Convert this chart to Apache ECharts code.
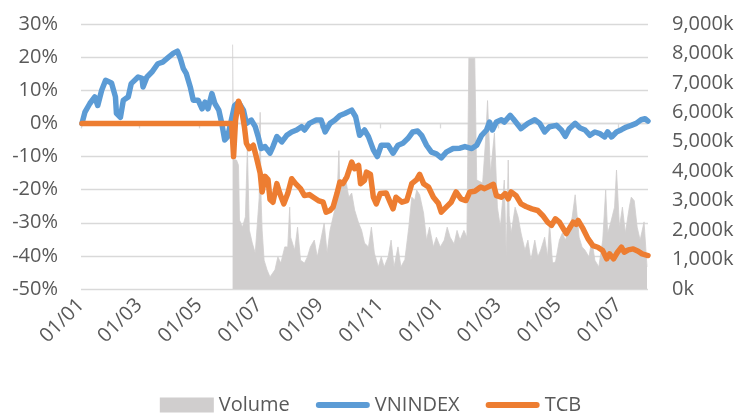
<!DOCTYPE html>
<html>
<head>
<meta charset="utf-8">
<script src="https://cdn.jsdelivr.net/npm/echarts@6/dist/echarts.min.js"></script>
<style>
  html, body { margin: 0; padding: 0; background: #ffffff; }
  #chart { width: 741px; height: 414px; }
</style>
</head>
<body>
<div id="chart"></div>
<script>
// VNINDEX vs TCB (% change) with TCB daily volume (thousand shares), Jan 2018 – Jul 2019.

// Bottom labels sit on the first day of every other month.
const tickDates = ['2018-01-01', '2018-03-01', '2018-05-01', '2018-07-01', '2018-09-01',
                   '2018-11-01', '2019-01-01', '2019-03-01', '2019-05-01', '2019-07-01'];

// VNINDEX, % change since the first session
const vnDates = [
  '2018-01-02', '2018-01-05', '2018-01-10', '2018-01-15', '2018-01-18', '2018-01-22', '2018-01-26',
  '2018-02-01', '2018-02-05', '2018-02-06', '2018-02-10', '2018-02-13', '2018-02-18', '2018-02-21', '2018-02-28',
  '2018-03-04', '2018-03-05', '2018-03-09', '2018-03-14', '2018-03-20', '2018-03-25', '2018-03-27', '2018-03-31',
  '2018-04-05', '2018-04-09', '2018-04-12', '2018-04-15', '2018-04-18', '2018-04-22', '2018-04-25', '2018-04-30',
  '2018-05-04', '2018-05-07', '2018-05-10', '2018-05-14', '2018-05-17', '2018-05-21', '2018-05-24', '2018-05-27', '2018-05-30',
  '2018-06-02', '2018-06-06', '2018-06-10', '2018-06-15', '2018-06-18', '2018-06-23', '2018-06-27', '2018-06-30',
  '2018-07-03', '2018-07-07', '2018-07-12', '2018-07-15', '2018-07-19', '2018-07-24', '2018-07-29',
  '2018-08-03', '2018-08-08', '2018-08-13', '2018-08-16', '2018-08-21', '2018-08-28',
  '2018-09-02', '2018-09-06', '2018-09-11', '2018-09-16', '2018-09-21', '2018-09-26',
  '2018-10-03', '2018-10-07', '2018-10-11', '2018-10-16', '2018-10-20', '2018-10-25', '2018-10-29',
  '2018-11-02', '2018-11-04', '2018-11-09', '2018-11-14', '2018-11-19', '2018-11-24', '2018-11-29',
  '2018-12-04', '2018-12-09', '2018-12-13', '2018-12-18', '2018-12-23', '2018-12-28',
  '2019-01-02', '2019-01-07', '2019-01-14', '2019-01-21', '2019-01-26',
  '2019-02-02', '2019-02-07', '2019-02-12', '2019-02-17', '2019-02-20', '2019-02-23', '2019-02-27',
  '2019-03-04', '2019-03-07', '2019-03-13', '2019-03-16', '2019-03-24', '2019-03-31',
  '2019-04-07', '2019-04-12', '2019-04-17', '2019-04-22', '2019-04-29',
  '2019-05-04', '2019-05-08', '2019-05-12', '2019-05-18', '2019-05-23', '2019-05-28',
  '2019-06-02', '2019-06-07', '2019-06-12', '2019-06-17', '2019-06-20', '2019-06-24', '2019-06-29',
  '2019-07-04', '2019-07-09', '2019-07-14', '2019-07-19', '2019-07-24', '2019-07-28', '2019-07-31'
];
const vnPct = [
  0, 3.4, 6, 8, 5.4, 10, 13,
  12.2, 8, 3, 1.8, 7, 8, 12, 14,
  13.6, 11, 14, 15.5, 18, 18.5, 18, 20,
  21.2, 21.8, 19.5, 16.5, 15, 11, 7, 7,
  4.4, 6.4, 4.4, 9, 6, 4, 0, -5, -4,
  0, 5.4, 6.4, 4, 0, 1, -1, -4,
  -7.6, -7, -9, -7, -4, -5.6, -3.6,
  -2.6, -2, -1, -2, 0, 1,
  1, -2.6, 0, 1, 2.4, 3,
  4, 2, -3.6, -2, -4, -8, -10,
  -6.6, -6, -6.6, -9, -6.6, -6, -4.6,
  -2.6, -2.3, -3.6, -6.6, -8.7, -9.2,
  -10.4, -8.7, -7.6, -7.5, -7,
  -7.6, -6.6, -3.6, -2, 0.4, -2, 0.4,
  1.1, 0.4, 2.4, 1.4, -1.6, 0,
  1.1, 0, -2.6, -1, -0.6,
  -2, -3.9, -1.6, 0, -1.4, -2,
  -3.6, -2.6, -3.1, -4.1, -2.6, -4.1, -2.6,
  -1.9, -1.1, -0.6, 0, 1.1, 1.4, 0.7
];

// TCB, % change vs. listing price (0 before listing on 4 Jun 2018)
const tcbDates = [
  '2018-01-02', '2018-06-03', '2018-06-05', '2018-06-07', '2018-06-10', '2018-06-13', '2018-06-16', '2018-06-18',
  '2018-06-21', '2018-06-25', '2018-06-28',
  '2018-07-02', '2018-07-04', '2018-07-07', '2018-07-10', '2018-07-12', '2018-07-15', '2018-07-19', '2018-07-22',
  '2018-07-26', '2018-07-30',
  '2018-08-03', '2018-08-07', '2018-08-12', '2018-08-16', '2018-08-21', '2018-08-25', '2018-08-30',
  '2018-09-04', '2018-09-07', '2018-09-11', '2018-09-14', '2018-09-18', '2018-09-21', '2018-09-24', '2018-09-28',
  '2018-10-03', '2018-10-06', '2018-10-10', '2018-10-12', '2018-10-16', '2018-10-18', '2018-10-22', '2018-10-25', '2018-10-28',
  '2018-11-01', '2018-11-07', '2018-11-11', '2018-11-14', '2018-11-17', '2018-11-23', '2018-11-28',
  '2018-12-03', '2018-12-08', '2018-12-11', '2018-12-15', '2018-12-20', '2018-12-25', '2018-12-30',
  '2019-01-02', '2019-01-07', '2019-01-12', '2019-01-17', '2019-01-22', '2019-01-27', '2019-01-31',
  '2019-02-05', '2019-02-11', '2019-02-15', '2019-02-20', '2019-02-24', '2019-02-27',
  '2019-03-04', '2019-03-08', '2019-03-11', '2019-03-14', '2019-03-19', '2019-03-24', '2019-03-29',
  '2019-04-04', '2019-04-10', '2019-04-15', '2019-04-20', '2019-04-24', '2019-04-28',
  '2019-05-02', '2019-05-07', '2019-05-09', '2019-05-12', '2019-05-16', '2019-05-19', '2019-05-21', '2019-05-26', '2019-05-31',
  '2019-06-05', '2019-06-10', '2019-06-15', '2019-06-19', '2019-06-22', '2019-06-26', '2019-06-30',
  '2019-07-04', '2019-07-07', '2019-07-11', '2019-07-16', '2019-07-21', '2019-07-25', '2019-07-31'
];
const tcbPct = [
  0, 0, -10, 1, 6.7, 4.4, -1, -6,
  -7.6, -6.6, -10,
  -15, -20.7, -16, -17, -23, -23.8, -18.2, -21.2,
  -24.3, -21.2,
  -16.7, -18.2, -19.7, -21.8, -21.5, -22.3, -23.3,
  -23.8, -26.8, -26.3, -25.3, -21.2, -17.7, -18.2, -16.2,
  -11.7, -13.7, -12.7, -18.2, -17.2, -14.7, -15.4, -22.3, -24.3,
  -21.2, -21, -23.8, -25.8, -22.3, -23.8, -23.3,
  -18.2, -17, -15.4, -18.2, -19.2, -22.3, -24.1,
  -26.8, -25.3, -23.8, -20.7, -22.8, -23.3, -20.7,
  -20.5, -19.2, -19.7, -19, -18.4, -21.8,
  -22.3, -21.2, -22.8, -20.7, -21.8, -24.3, -25.1,
  -25.8, -26.3, -27.8, -29.8, -30.8, -28.8,
  -29.8, -32.3, -33.3, -31.8, -29.8, -30.5, -29.3, -31.8, -34.8,
  -36.9, -37.4, -38.4, -40.9, -39.4, -40.9, -38.9,
  -37.4, -38.9, -38.2, -37.9, -38.6, -39.4, -39.9
];

// TCB traded volume, thousand shares
const volDates = [
  '2018-06-04', '2018-06-05', '2018-06-08', '2018-06-10', '2018-06-11', '2018-06-14', '2018-06-17', '2018-06-19',
  '2018-06-21', '2018-06-24', '2018-06-27',
  '2018-07-01', '2018-07-02', '2018-07-03', '2018-07-04', '2018-07-06', '2018-07-09', '2018-07-12', '2018-07-17',
  '2018-07-20', '2018-07-23', '2018-07-27', '2018-07-30',
  '2018-08-01', '2018-08-02', '2018-08-06', '2018-08-09', '2018-08-12', '2018-08-16', '2018-08-19', '2018-08-22',
  '2018-08-26', '2018-08-29',
  '2018-09-01', '2018-09-05', '2018-09-08', '2018-09-11', '2018-09-15', '2018-09-18', '2018-09-20', '2018-09-21',
  '2018-09-25', '2018-09-27', '2018-09-30',
  '2018-10-03', '2018-10-06', '2018-10-10', '2018-10-13', '2018-10-16', '2018-10-20', '2018-10-23', '2018-10-26', '2018-10-30',
  '2018-11-02', '2018-11-05', '2018-11-09', '2018-11-12', '2018-11-15', '2018-11-19', '2018-11-22', '2018-11-26', '2018-11-30',
  '2018-12-03', '2018-12-06', '2018-12-08', '2018-12-11', '2018-12-15', '2018-12-18', '2018-12-21', '2018-12-25', '2018-12-28',
  '2019-01-01', '2019-01-05', '2019-01-08', '2019-01-11', '2019-01-15', '2019-01-18', '2019-01-21', '2019-01-25',
  '2019-01-28', '2019-01-30',
  '2019-02-05', '2019-02-07', '2019-02-13', '2019-02-16', '2019-02-18', '2019-02-21', '2019-02-25', '2019-02-28',
  '2019-03-03', '2019-03-07', '2019-03-09', '2019-03-11', '2019-03-12', '2019-03-14', '2019-03-18', '2019-03-21',
  '2019-03-24', '2019-03-28', '2019-03-31',
  '2019-04-03', '2019-04-07', '2019-04-10', '2019-04-13', '2019-04-17', '2019-04-20', '2019-04-22', '2019-04-25', '2019-04-28',
  '2019-05-02', '2019-05-05', '2019-05-08', '2019-05-12', '2019-05-15', '2019-05-18', '2019-05-22', '2019-05-25', '2019-05-28',
  '2019-06-01', '2019-06-04', '2019-06-07', '2019-06-11', '2019-06-15', '2019-06-18', '2019-06-20', '2019-06-23',
  '2019-06-27', '2019-06-29',
  '2019-07-02', '2019-07-05', '2019-07-08', '2019-07-12', '2019-07-14', '2019-07-17', '2019-07-20', '2019-07-23',
  '2019-07-27', '2019-07-30'
];
const volK = [
  8300, 4400, 4380, 4200, 2340, 2100, 2450, 4800,
  2000, 1560, 1220,
  3100, 6000, 3000, 2000, 980, 650, 410, 650,
  1090, 880, 1430, 1430,
  2780, 1760, 1320, 2100, 980, 880, 1090, 1430,
  1660, 1090,
  1560, 2240, 1220, 2000, 2580, 3020, 4700, 3260,
  3800, 3700, 3120,
  3260, 2680, 2240, 2000, 1560, 1430, 2100, 1220, 750,
  1090, 750, 1090, 1660, 750, 1430, 750, 1000, 2100,
  3120, 3020, 3360, 3200, 2580, 1660, 2100, 1430, 1760,
  1430, 1660, 2100, 1760, 1530, 1990, 1660, 1990,
  1760, 7840,
  7840, 3700, 3600, 5060, 6400, 3940, 5300, 2780,
  2100, 3700, 1100, 4380, 2500, 1900, 2780, 2450,
  1900, 1320, 1660,
  980, 1660, 1090, 1320, 1760, 1090, 2240, 880, 920,
  1660, 1900, 1660, 2000, 2450, 3200, 1760, 1430, 1320,
  1090, 1660, 980, 750, 1660, 3360, 1900, 2240,
  2780, 4040,
  2100, 2780, 1900, 2780, 3120, 3000, 2100, 1660,
  2280, 750
];

const BLUE = '#5B9BD5';
const ORANGE = '#ED7D31';
const VOL = '#D0CECE';
const GRID = '#D9D9D9';
const TEXT = '#595959';
const FONT = '"Open Sans", "Liberation Sans", sans-serif';
// legend swatch for the two lines: a thick bar with rounded ends
const LINE_ICON = 'path://M3,0H51A3,3,0,0,1,51,6H3A3,3,0,0,1,3,0Z';

// dates are placed on a plain value axis as UTC timestamps
const ts = s => Date.parse(s);
const pad = n => (n < 10 ? '0' : '') + n;
const dayMonth = v => { const d = new Date(v); return pad(d.getUTCDate()) + '/' + pad(d.getUTCMonth() + 1); };
const pairs = (dates, vals) => dates.map((d, i) => [ts(d), vals[i]]);

const X_MIN = ts('2018-01-01');
const X_MAX = ts('2019-07-31');
const tickTs = tickDates.map(ts);

const chart = echarts.init(document.getElementById('chart'));

chart.setOption({
  animation: false,
  backgroundColor: '#ffffff',
  textStyle: { fontFamily: FONT },
  grid: { left: 81, right: 93, top: 24, bottom: 125, outerBoundsMode: 'none' },
  legend: {
    top: 390,
    left: 'center',
    itemGap: 26,
    itemWidth: 54,
    itemHeight: 15,
    textStyle: { fontSize: 20, color: TEXT, fontFamily: FONT },
    data: [
      { name: 'Volume', icon: 'rect' },
      { name: 'VNINDEX', icon: LINE_ICON },
      { name: 'TCB', icon: LINE_ICON }
    ]
  },
  xAxis: [{
    // labels along the bottom
    type: 'value',
    min: X_MIN,
    max: X_MAX,
    axisLine: { show: false, onZero: false },
    axisTick: { show: false },
    splitLine: { show: false },
    axisLabel: {
      customValues: tickTs,
      rotate: 45,
      margin: 13,
      fontSize: 20,
      color: TEXT,
      formatter: dayMonth
    }
  }, {
    // axis line + ticks crossing at 0%
    type: 'value',
    min: X_MIN,
    max: X_MAX,
    position: 'bottom',
    axisLine: { show: true, onZero: true, onZeroAxisIndex: 0, lineStyle: { color: GRID, width: 1.3 } },
    axisTick: { show: true, customValues: tickTs, length: 5, lineStyle: { color: GRID, width: 1.3 } },
    axisLabel: { show: false },
    splitLine: { show: false }
  }],
  yAxis: [{
    type: 'value',
    min: -50,
    max: 30,
    interval: 10,
    position: 'left',
    axisLine: { show: false },
    axisTick: { show: false },
    axisLabel: { formatter: '{value}%', fontSize: 20, color: TEXT, margin: 23 },
    splitLine: { lineStyle: { color: GRID, width: 1.3 } }
  }, {
    type: 'value',
    min: 0,
    max: 9000,
    interval: 1000,
    position: 'right',
    axisLine: { show: false },
    axisTick: { show: false },
    splitLine: { show: false },
    axisLabel: {
      formatter: v => v.toLocaleString('en-US') + 'k',
      fontSize: 20,
      color: TEXT,
      margin: 24
    }
  }],
  series: [{
    name: 'Volume',
    type: 'line',
    yAxisIndex: 1,
    symbol: 'none',
    data: pairs(volDates, volK),
    lineStyle: { width: 0.8, color: VOL },
    itemStyle: { color: VOL },
    areaStyle: { color: VOL, opacity: 1 },
    z: 1
  }, {
    name: 'VNINDEX',
    type: 'line',
    symbol: 'none',
    data: pairs(vnDates, vnPct),
    lineStyle: { width: 5.5, color: BLUE, cap: 'round', join: 'round' },
    itemStyle: { color: BLUE },
    z: 3
  }, {
    name: 'TCB',
    type: 'line',
    symbol: 'none',
    data: pairs(tcbDates, tcbPct),
    lineStyle: { width: 5.5, color: ORANGE, cap: 'round', join: 'round' },
    itemStyle: { color: ORANGE },
    z: 4
  }]
});
</script>
</body>
</html>
